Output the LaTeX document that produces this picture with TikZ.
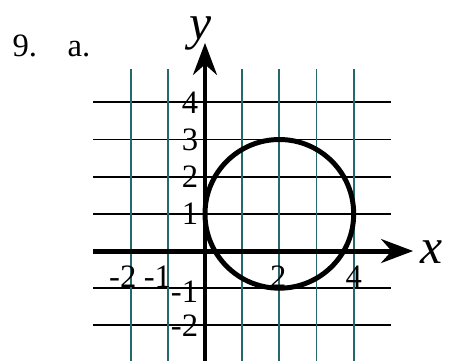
\documentclass[tikz,border=0pt]{standalone}
\usepackage{fontspec}
\setmainfont{Liberation Serif}
\usetikzlibrary{arrows.meta}
\definecolor{gridteal}{RGB}{35,105,110}

\begin{document}
\begin{tikzpicture}[
  x=0.5cm, y=0.5cm,
  every node/.style={font=\fontsize{12.5}{15}\selectfont, inner sep=0pt},
  gridline/.style={line width=0.7pt},
  vline/.style={gridline, draw=gridteal},
  axis/.style={line width=1.9pt, -{Stealth[length=4.3mm, width=3.2mm]}},
  curve/.style={line width=1.9pt},
  axislabel/.style={font=\fontsize{19}{22}\selectfont\itshape}
]
\useasboundingbox (-5.515,-2.932) rectangle (6.564,6.753);
% grid
\foreach \y in {-2,-1,1,2,3,4}
  \draw[gridline] (-3,\y) -- (5,\y);
\foreach \x in {-2,-1,1,2,3,4}
  \draw[vline] (\x,-2.95) -- (\x,4.9);
% axes
\coordinate (xfrom) at (-3,0);
\coordinate (xto) at (5.6,0);
\coordinate (yfrom) at (0,-2.95);
\coordinate (yto) at (0,5.6);
\draw[axis] (xfrom) -- (xto);
\draw[axis] (yfrom) -- (yto);
\node[axislabel] (xlab) at (6.1,-0.03) {x};
\node[axislabel] (ylab) at (-0.13,5.85) {y};
% circle
\draw[curve] (2,1) circle[radius=2];
% tick labels
\foreach \y/\t in {4/4,3/3,2/2,1/1,-1.1/-1,-2.02/-2}
  \node[anchor=east] (yt\t) at (-0.17,\y) {\t};
\foreach \x/\t in {-2.21/-2,-1.28/-1,1.97/2,4/4}
  \node (xt\t) at (\x,-0.7) {\t};
% problem number
\node[anchor=base west] (num) at (-5.19,5.22) {9.};
\node[anchor=base west] (part) at (-3.71,5.22) {a.};
\end{tikzpicture}
\end{document}
